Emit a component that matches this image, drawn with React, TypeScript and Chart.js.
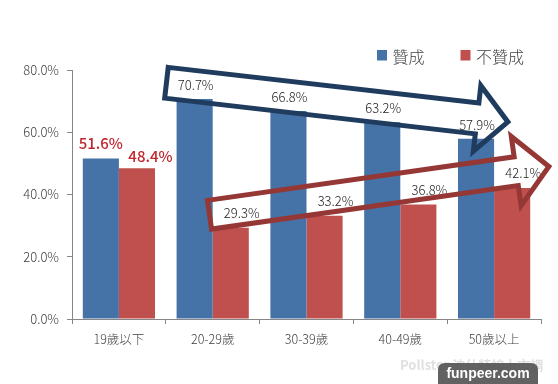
import React, { useEffect, useRef } from "react";
import { Chart, registerables } from "chart.js";

Chart.register(...registerables);

// ---- data ----
const categories = ["19歲以下", "20-29歲", "30-39歲", "40-49歲", "50歲以上"];
const seriesNames = ["贊成", "不贊成"];
const approve = [51.6, 70.7, 66.8, 63.2, 57.9];
const disapprove = [48.4, 29.3, 33.2, 36.8, 42.1];
const yTicks = [0, 20, 40, 60, 80];
const highlightIndex = 0;
// trend arrows: [category position, value] for start and tip
const approveTrend = [
  [0.507, 75.9],
  [4.147, 63.3],
];
const disapproveTrend = [
  [0.966, 33.5],
  [4.584, 49.0],
];
const watermarkText = "Pollster 波仕特線上市調";
const badgeText = "funpeer.com";

// ---- styles ----
const FONT = '"Noto Sans CJK TC", "Noto Sans", sans-serif';
const seriesColors = ["#4572A7", "#C0504D"];
const arrowColors = ["#1F3B5E", "#953735"];
const axisColor = "#868686";
const textColor = "#404040";

function drawArrow(
  ctx: CanvasRenderingContext2D,
  x0: number,
  y0: number,
  x1: number,
  y1: number,
  half: number,
  headHalf: number,
  headLen: number,
  color: string
) {
  const ang = Math.atan2(y1 - y0, x1 - x0);
  const L = Math.hypot(x1 - x0, y1 - y0);
  ctx.save();
  ctx.translate(x0, y0);
  ctx.rotate(ang);
  ctx.beginPath();
  ctx.moveTo(0, -half);
  ctx.lineTo(L - headLen, -half);
  ctx.lineTo(L - headLen, -headHalf);
  ctx.lineTo(L, 0);
  ctx.lineTo(L - headLen, headHalf);
  ctx.lineTo(L - headLen, half);
  ctx.lineTo(0, half);
  ctx.closePath();
  ctx.lineWidth = 5;
  ctx.lineJoin = "miter";
  ctx.strokeStyle = color;
  ctx.stroke();
  ctx.restore();
}

const overlayPlugin = {
  id: "overlay",
  afterDatasetsDraw(chart: any) {
    const ctx: CanvasRenderingContext2D = chart.ctx;
    chart.data.datasets.forEach((ds: any, di: number) => {
      const meta = chart.getDatasetMeta(di);
      meta.data.forEach((bar: any, i: number) => {
        const v = ds.data[i] as number;
        const hl = i === highlightIndex;
        const dx = hl ? (di === 0 ? 0 : 13.5) : di === 0 ? 1 : 11;
        const dy = hl ? (di === 0 ? 15 : 12) : di === 0 ? 14 : 14.5;
        ctx.save();
        ctx.font = hl ? `500 15px ${FONT}` : `300 13px ${FONT}`;
        ctx.fillStyle = hl ? "#C0262D" : "#262626";
        ctx.textAlign = "center";
        ctx.textBaseline = "middle";
        ctx.fillText(v.toFixed(1) + "%", bar.x + dx, bar.y - dy);
        ctx.restore();
      });
    });
  },
  afterDraw(chart: any) {
    const ctx: CanvasRenderingContext2D = chart.ctx;
    const xs = chart.scales.x;
    const ys = chart.scales.y;
    const px = (p: number[]) => [xs.getPixelForValue(p[0]), ys.getPixelForValue(p[1])];

    // trend arrows
    const [a0, a1] = [px(approveTrend[0]), px(approveTrend[1])];
    drawArrow(ctx, a0[0], a0[1], a1[0], a1[1], 15.5, 33, 31, arrowColors[0]);
    const [b0, b1] = [px(disapproveTrend[0]), px(disapproveTrend[1])];
    drawArrow(ctx, b0[0], b0[1], b1[0], b1[1], 14.5, 35, 33, arrowColors[1]);

    // legend
    const legendX = [377, 460.5];
    chart.data.datasets.forEach((ds: any, di: number) => {
      ctx.save();
      ctx.fillStyle = ds.backgroundColor;
      ctx.fillRect(legendX[di], 50, 10, 10.5);
      ctx.font = `300 16px ${FONT}`;
      ctx.fillStyle = textColor;
      ctx.textAlign = "left";
      ctx.textBaseline = "middle";
      ctx.fillText(ds.label, legendX[di] + 15.5, 56.5);
      ctx.restore();
    });

    // watermark
    ctx.save();
    ctx.font = `bold 13px ${FONT}`;
    ctx.fillStyle = "#E0E0E0";
    ctx.textAlign = "left";
    ctx.textBaseline = "middle";
    ctx.fillText(watermarkText, 400, 365);
    ctx.fillStyle = "rgba(85,85,85,0.92)";
    ctx.beginPath();
    const bx = 438,
      by = 363,
      bw = 100,
      bh = 30,
      r = 7;
    ctx.moveTo(bx + r, by);
    ctx.lineTo(bx + bw - r, by);
    ctx.quadraticCurveTo(bx + bw, by, bx + bw, by + r);
    ctx.lineTo(bx + bw, by + bh);
    ctx.lineTo(bx, by + bh);
    ctx.lineTo(bx, by + r);
    ctx.quadraticCurveTo(bx, by, bx + r, by);
    ctx.fill();
    ctx.font = `bold 14px "Liberation Sans", Arial, sans-serif`;
    ctx.fillStyle = "#FFFFFF";
    ctx.textAlign = "center";
    ctx.fillText(badgeText, bx + bw / 2, 374.5);
    ctx.restore();
  },
};

export default function App() {
  const ref = useRef<HTMLCanvasElement | null>(null);

  useEffect(() => {
    if (!ref.current) return;
    const chart = new Chart(ref.current, {
      type: "bar",
      data: {
        labels: categories,
        datasets: [
          {
            label: seriesNames[0],
            data: approve,
            backgroundColor: seriesColors[0],
            borderWidth: 0,
          },
          {
            label: seriesNames[1],
            data: disapprove,
            backgroundColor: seriesColors[1],
            borderWidth: 0,
          },
        ],
      },
      options: {
        animation: false,
        responsive: false,
        maintainAspectRatio: false,
        devicePixelRatio: 1,
        layout: { padding: { left: 0, right: 17, top: 70, bottom: 0 } },
        datasets: {
          bar: { categoryPercentage: 0.77, barPercentage: 1 },
        },
        plugins: {
          legend: { display: false },
          tooltip: { enabled: false },
          title: { display: false },
        },
        scales: {
          x: {
            offset: true,
            grid: {
              display: true,
              drawOnChartArea: false,
              drawTicks: true,
              tickLength: 5,
              color: axisColor,
              offset: true,
            },
            border: { display: true, color: axisColor, width: 1 },
            ticks: {
              font: { family: FONT, size: 12.5, weight: "300" },
              color: textColor,
              padding: 8,
              maxRotation: 0,
              autoSkip: false,
            },
            afterFit: (scale: any) => {
              scale.height = 65;
            },
          },
          y: {
            min: 0,
            max: 80,
            afterBuildTicks: (scale: any) => {
              scale.ticks = yTicks.map((v) => ({ value: v }));
            },
            grid: {
              display: true,
              drawOnChartArea: false,
              drawTicks: true,
              tickLength: 5,
              color: axisColor,
            },
            border: { display: true, color: axisColor, width: 1 },
            ticks: {
              font: { family: FONT, size: 13, weight: "300" },
              color: textColor,
              padding: 8,
              callback: (v: any) => Number(v).toFixed(1) + "%",
            },
            afterFit: (scale: any) => {
              scale.width = 72;
            },
          },
        },
      },
      plugins: [overlayPlugin],
    });
    return () => chart.destroy();
  }, []);

  return (
    <div
      style={{
        position: "absolute",
        left: 0,
        top: 0,
        width: 558,
        height: 384,
        background: "#ffffff",
      }}
    >
      <canvas ref={ref} width={558} height={384} style={{ display: "block" }} />
    </div>
  );
}
